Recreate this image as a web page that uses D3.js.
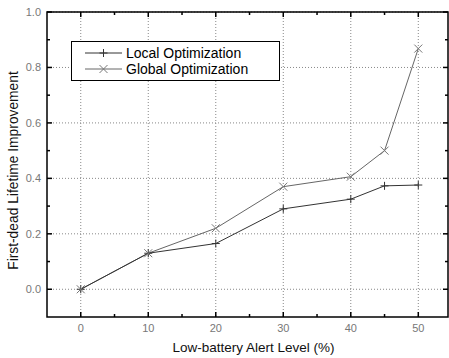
<!DOCTYPE html>
<html>
<head>
<meta charset="utf-8">
<script src="https://cdn.jsdelivr.net/npm/d3@7"></script>
<style>
  body { margin: 0; background: #fff; }
  text { font-family: "Liberation Sans", Arial, sans-serif; }
</style>
</head>
<body>
<div id="plot"></div>
<script>
// data
const alertLevels = [0, 10, 20, 30, 40, 45, 50];
const localOpt = [0, 0.13, 0.165, 0.29, 0.325, 0.373, 0.376];
const globalOpt = [0, 0.13, 0.22, 0.37, 0.406, 0.50, 0.868];
const xTicks = [0, 10, 20, 30, 40, 50];
const yTicks = [0.0, 0.2, 0.4, 0.6, 0.8, 1.0];
const seriesNames = ["Local Optimization", "Global Optimization"];

const W = 449, H = 358;
const margin = {top: 12, right: 1, bottom: 41, left: 47};
const width = W - margin.left - margin.right;
const height = H - margin.top - margin.bottom;

const svg = d3.select("#plot").append("svg")
  .attr("width", W).attr("height", H);
const g = svg.append("g")
  .attr("transform", "translate(" + margin.left + "," + margin.top + ")");

const x = d3.scaleLinear().domain([-5, 54.4]).range([0, width]);
const y = d3.scaleLinear().domain([-0.1, 1.0]).range([height, 0]);

// grid
g.selectAll(".vgrid").data(xTicks).enter().append("line")
  .attr("x1", d => x(d)).attr("x2", d => x(d))
  .attr("y1", 0).attr("y2", height)
  .attr("stroke", "#888").attr("stroke-width", 1)
  .attr("stroke-dasharray", "1,2");
g.selectAll(".hgrid").data(yTicks).enter().append("line")
  .attr("x1", 0).attr("x2", width)
  .attr("y1", d => y(d)).attr("y2", d => y(d))
  .attr("stroke", "#888").attr("stroke-width", 1)
  .attr("stroke-dasharray", "1,2");

// frame
g.append("rect").attr("x", 0).attr("y", 0)
  .attr("width", width).attr("height", height)
  .attr("fill", "none").attr("stroke", "#000").attr("stroke-width", 1.5);

// ticks (inward), bottom/top and left/right
const xMinor = [5, 15, 25, 35, 45];
const yMinor = [0.1, 0.3, 0.5, 0.7, 0.9];
function ticksX(vals, len) {
  vals.forEach(v => {
    g.append("line").attr("x1", x(v)).attr("x2", x(v))
      .attr("y1", height).attr("y2", height - len)
      .attr("stroke", "#000").attr("stroke-width", 1.5);
    g.append("line").attr("x1", x(v)).attr("x2", x(v))
      .attr("y1", 0).attr("y2", len)
      .attr("stroke", "#000").attr("stroke-width", 1.5);
  });
}
function ticksY(vals, len) {
  vals.forEach(v => {
    g.append("line").attr("x1", 0).attr("x2", len)
      .attr("y1", y(v)).attr("y2", y(v))
      .attr("stroke", "#000").attr("stroke-width", 1.5);
    g.append("line").attr("x1", width).attr("x2", width - len)
      .attr("y1", y(v)).attr("y2", y(v))
      .attr("stroke", "#000").attr("stroke-width", 1.5);
  });
}
ticksX(xTicks, 5);
ticksX(xMinor, 3);
ticksY(yTicks, 5);
ticksY(yMinor, 3);

// tick labels
g.selectAll(".xl").data(xTicks).enter().append("text")
  .attr("x", d => x(d)).attr("y", height + 15)
  .attr("text-anchor", "middle").attr("font-size", 11).attr("fill", "#777")
  .text(d => d);
g.selectAll(".yl").data(yTicks).enter().append("text")
  .attr("x", -6).attr("y", d => y(d) + 4)
  .attr("text-anchor", "end").attr("font-size", 11).attr("fill", "#777")
  .text(d => d.toFixed(1));

// axis titles
svg.append("text")
  .attr("x", 253.5).attr("y", 351.5)
  .attr("text-anchor", "middle").attr("font-size", 13.5).attr("fill", "#111")
  .text("Low-battery Alert Level (%)");
svg.append("text")
  .attr("transform", "translate(17.5,170.5) rotate(-90)")
  .attr("text-anchor", "middle").attr("font-size", 13.8).attr("fill", "#111")
  .text("First-dead Lifetime Improvement");

// series
const line = d3.line().x(d => x(d[0])).y(d => y(d[1]));
const localPts = alertLevels.map((v, i) => [v, localOpt[i]]);
const globalPts = alertLevels.map((v, i) => [v, globalOpt[i]]);

g.append("path").datum(globalPts).attr("d", line)
  .attr("fill", "none").attr("stroke", "#666").attr("stroke-width", 1);
g.append("path").datum(localPts).attr("d", line)
  .attr("fill", "none").attr("stroke", "#333").attr("stroke-width", 1);

function plus(sel, cx, cy, s, col) {
  sel.append("path")
    .attr("d", `M${cx - s},${cy}H${cx + s}M${cx},${cy - s}V${cy + s}`)
    .attr("stroke", col).attr("stroke-width", 1);
}
function cross(sel, cx, cy, s, col) {
  sel.append("path")
    .attr("d", `M${cx - s},${cy - s}L${cx + s},${cy + s}M${cx - s},${cy + s}L${cx + s},${cy - s}`)
    .attr("stroke", col).attr("stroke-width", 1);
}
localPts.forEach(p => plus(g, x(p[0]), y(p[1]), 4, "#333"));
globalPts.forEach(p => cross(g, x(p[0]), y(p[1]), 4, "#777"));

// legend
const lg = svg.append("g");
lg.append("rect").attr("x", 71.5).attr("y", 41.5).attr("width", 208).attr("height", 39)
  .attr("fill", "#fff").attr("stroke", "#000").attr("stroke-width", 1);
const rowsY = [53, 69];
seriesNames.forEach((name, i) => {
  const ly = rowsY[i];
  lg.append("line").attr("x1", 85).attr("x2", 122).attr("y1", ly).attr("y2", ly)
    .attr("stroke", i === 0 ? "#333" : "#666").attr("stroke-width", 1);
  if (i === 0) plus(lg, 103.5, ly, 4, "#333");
  else cross(lg, 103.5, ly, 4, "#777");
  lg.append("text").attr("x", 126).attr("y", ly + 5)
    .attr("font-size", 14).attr("fill", "#000").text(name);
});
</script>
</body>
</html>
